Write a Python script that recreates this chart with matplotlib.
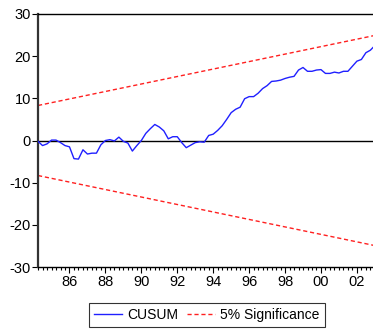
import numpy as np
import matplotlib.pyplot as plt
from matplotlib.ticker import MultipleLocator, FixedLocator

plt.rcParams["font.family"] = ["Liberation Sans", "DejaVu Sans"]
plt.rcParams["axes.unicode_minus"] = False

# ── Data: quarterly CUSUM, 1984Q2 .. 2003Q1 ───────────────────────────────────
start_year = 1984.25
cusum = [
    -0.2, -1.2, -0.8, 0.1, 0.1, -0.5, -1.2, -1.5, -4.3, -4.4,
    -2.2, -3.2, -3.0, -3.0, -1.0, 0.0, 0.2, -0.1, 0.8, -0.2,
    -0.6, -2.5, -1.2, 0.0, 1.7, 2.8, 3.8, 3.2, 2.3, 0.4,
    0.9, 0.9, -0.5, -1.7, -1.1, -0.5, -0.3, -0.4, 1.2, 1.5,
    2.4, 3.5, 5.0, 6.6, 7.4, 7.9, 9.9, 10.4, 10.4, 11.2,
    12.3, 13.0, 14.0, 14.1, 14.3, 14.7, 15.0, 15.2, 16.7, 17.3,
    16.4, 16.4, 16.7, 16.8, 15.9, 15.9, 16.2, 16.0, 16.4, 16.4,
    17.6, 18.8, 19.2, 20.8, 21.4, 22.5,
]
bound_start = 8.3
bound_end = 24.9
year_labels = ["86", "88", "90", "92", "94", "96", "98", "00", "02"]
label_years = [1986, 1988, 1990, 1992, 1994, 1996, 1998, 2000, 2002]

t = start_year + np.arange(len(cusum)) / 4.0
upper = np.linspace(bound_start, bound_end, len(cusum))
lower = -upper

fig = plt.figure(figsize=(3.73, 3.31), dpi=100)
ax = fig.add_axes([0.102, 0.193, 0.903, 0.765])

ax.axhline(0, color="black", linewidth=1.0, zorder=1)
ax.plot(t, cusum, color="#2020ff", linewidth=1.0, label="CUSUM", zorder=3)
ax.plot(t, upper, color="#ff2020", linewidth=1.0, linestyle=(0, (3, 2)),
        label="5% Significance", zorder=2)
ax.plot(t, lower, color="#ff2020", linewidth=1.0, linestyle=(0, (3, 2)), zorder=2)

ax.set_xlim(t[0], t[-1])
ax.set_ylim(-30, 30)
ax.yaxis.set_major_locator(MultipleLocator(10))

ax.xaxis.set_major_locator(FixedLocator(label_years))
ax.set_xticklabels(year_labels)
ax.xaxis.set_minor_locator(MultipleLocator(0.25))

ax.tick_params(axis="both", direction="out", labelsize=10.5, colors="black")
ax.tick_params(axis="x", which="major", length=4, width=0.8, pad=2)
ax.tick_params(axis="x", which="minor", length=2.5, width=0.8)
ax.tick_params(axis="y", length=4, width=0.8, pad=1)

for s in ["top", "bottom"]:
    ax.spines[s].set_linewidth(1.0)
ax.spines["left"].set_linewidth(1.6)
ax.spines["left"].set_color("#333333")
ax.spines["right"].set_visible(False)

leg = fig.legend(
    loc="center", bbox_to_anchor=(0.555, 0.048), ncol=2,
    fontsize=10, frameon=True, fancybox=False, edgecolor="black",
    handlelength=2.0, handletextpad=0.4, columnspacing=0.6,
    borderpad=0.35,
)
leg.get_frame().set_linewidth(0.8)

fig.savefig("out.png", dpi=100)
